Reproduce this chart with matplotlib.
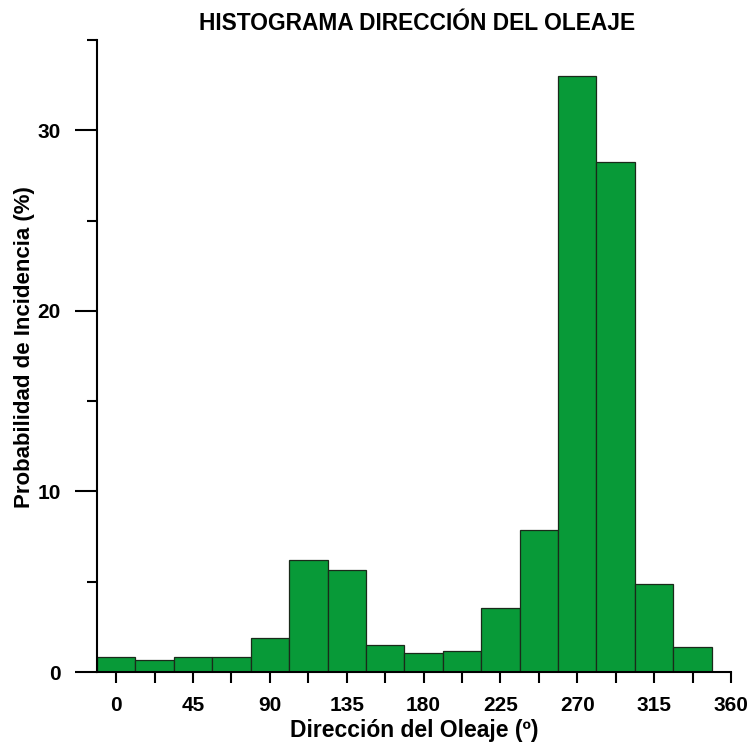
import matplotlib.pyplot as plt
from matplotlib.ticker import MultipleLocator

# bin centres (degrees) and incidence probability (%)
direcciones = [0, 22.5, 45, 67.5, 90, 112.5, 135, 157.5,
               180, 202.5, 225, 247.5, 270, 292.5, 315, 337.5]
probabilidad = [0.81, 0.67, 0.81, 0.85, 1.90, 6.21, 5.64, 1.50,
                1.04, 1.18, 3.53, 7.84, 33.02, 28.25, 4.88, 1.40]
x_ticks = [0, 45, 90, 135, 180, 225, 270, 315, 360]
y_ticks = [0, 10, 20, 30]

plt.rcParams["font.family"] = ["Liberation Sans", "DejaVu Sans"]
plt.rcParams["font.weight"] = "bold"

fig = plt.figure(figsize=(7.52, 7.47), dpi=100)
ax = fig.add_axes([0.129, 0.1004, 0.843, 0.8461])

ax.bar(direcciones, probabilidad, width=22.5, align="center",
       color="#089a38", edgecolor="#1a2a1a", linewidth=0.9)

ax.set_xlim(-11.25, 360)
ax.set_ylim(0, 35)

ax.set_xticks(x_ticks)
ax.xaxis.set_minor_locator(MultipleLocator(22.5))
ax.set_yticks(y_ticks)
ax.yaxis.set_minor_locator(MultipleLocator(5))

ax.tick_params(axis="x", which="both", direction="out", length=8,
               width=1.5, labelsize=15, pad=9)
ax.tick_params(axis="y", which="major", direction="out", length=16,
               width=1.5, labelsize=15, pad=10)
ax.tick_params(axis="y", which="minor", direction="out", length=7.5,
               width=1.5)

for side in ["top", "right"]:
    ax.spines[side].set_visible(False)
for side in ["left", "bottom"]:
    ax.spines[side].set_linewidth(1.5)

ax.set_xlabel("Dirección del Oleaje (º)", fontsize=16.5, fontweight="bold",
              labelpad=3)
ax.set_ylabel("Probabilidad de Incidencia (%)", fontsize=16,
              fontweight="bold")
ax.yaxis.set_label_coords(-0.098, 0.514)

fig.text(0.554, 0.968, "HISTOGRAMA DIRECCIÓN DEL OLEAJE", ha="center",
         va="center", fontsize=16.4, fontweight="bold")

fig.savefig("out.png", dpi=100)
